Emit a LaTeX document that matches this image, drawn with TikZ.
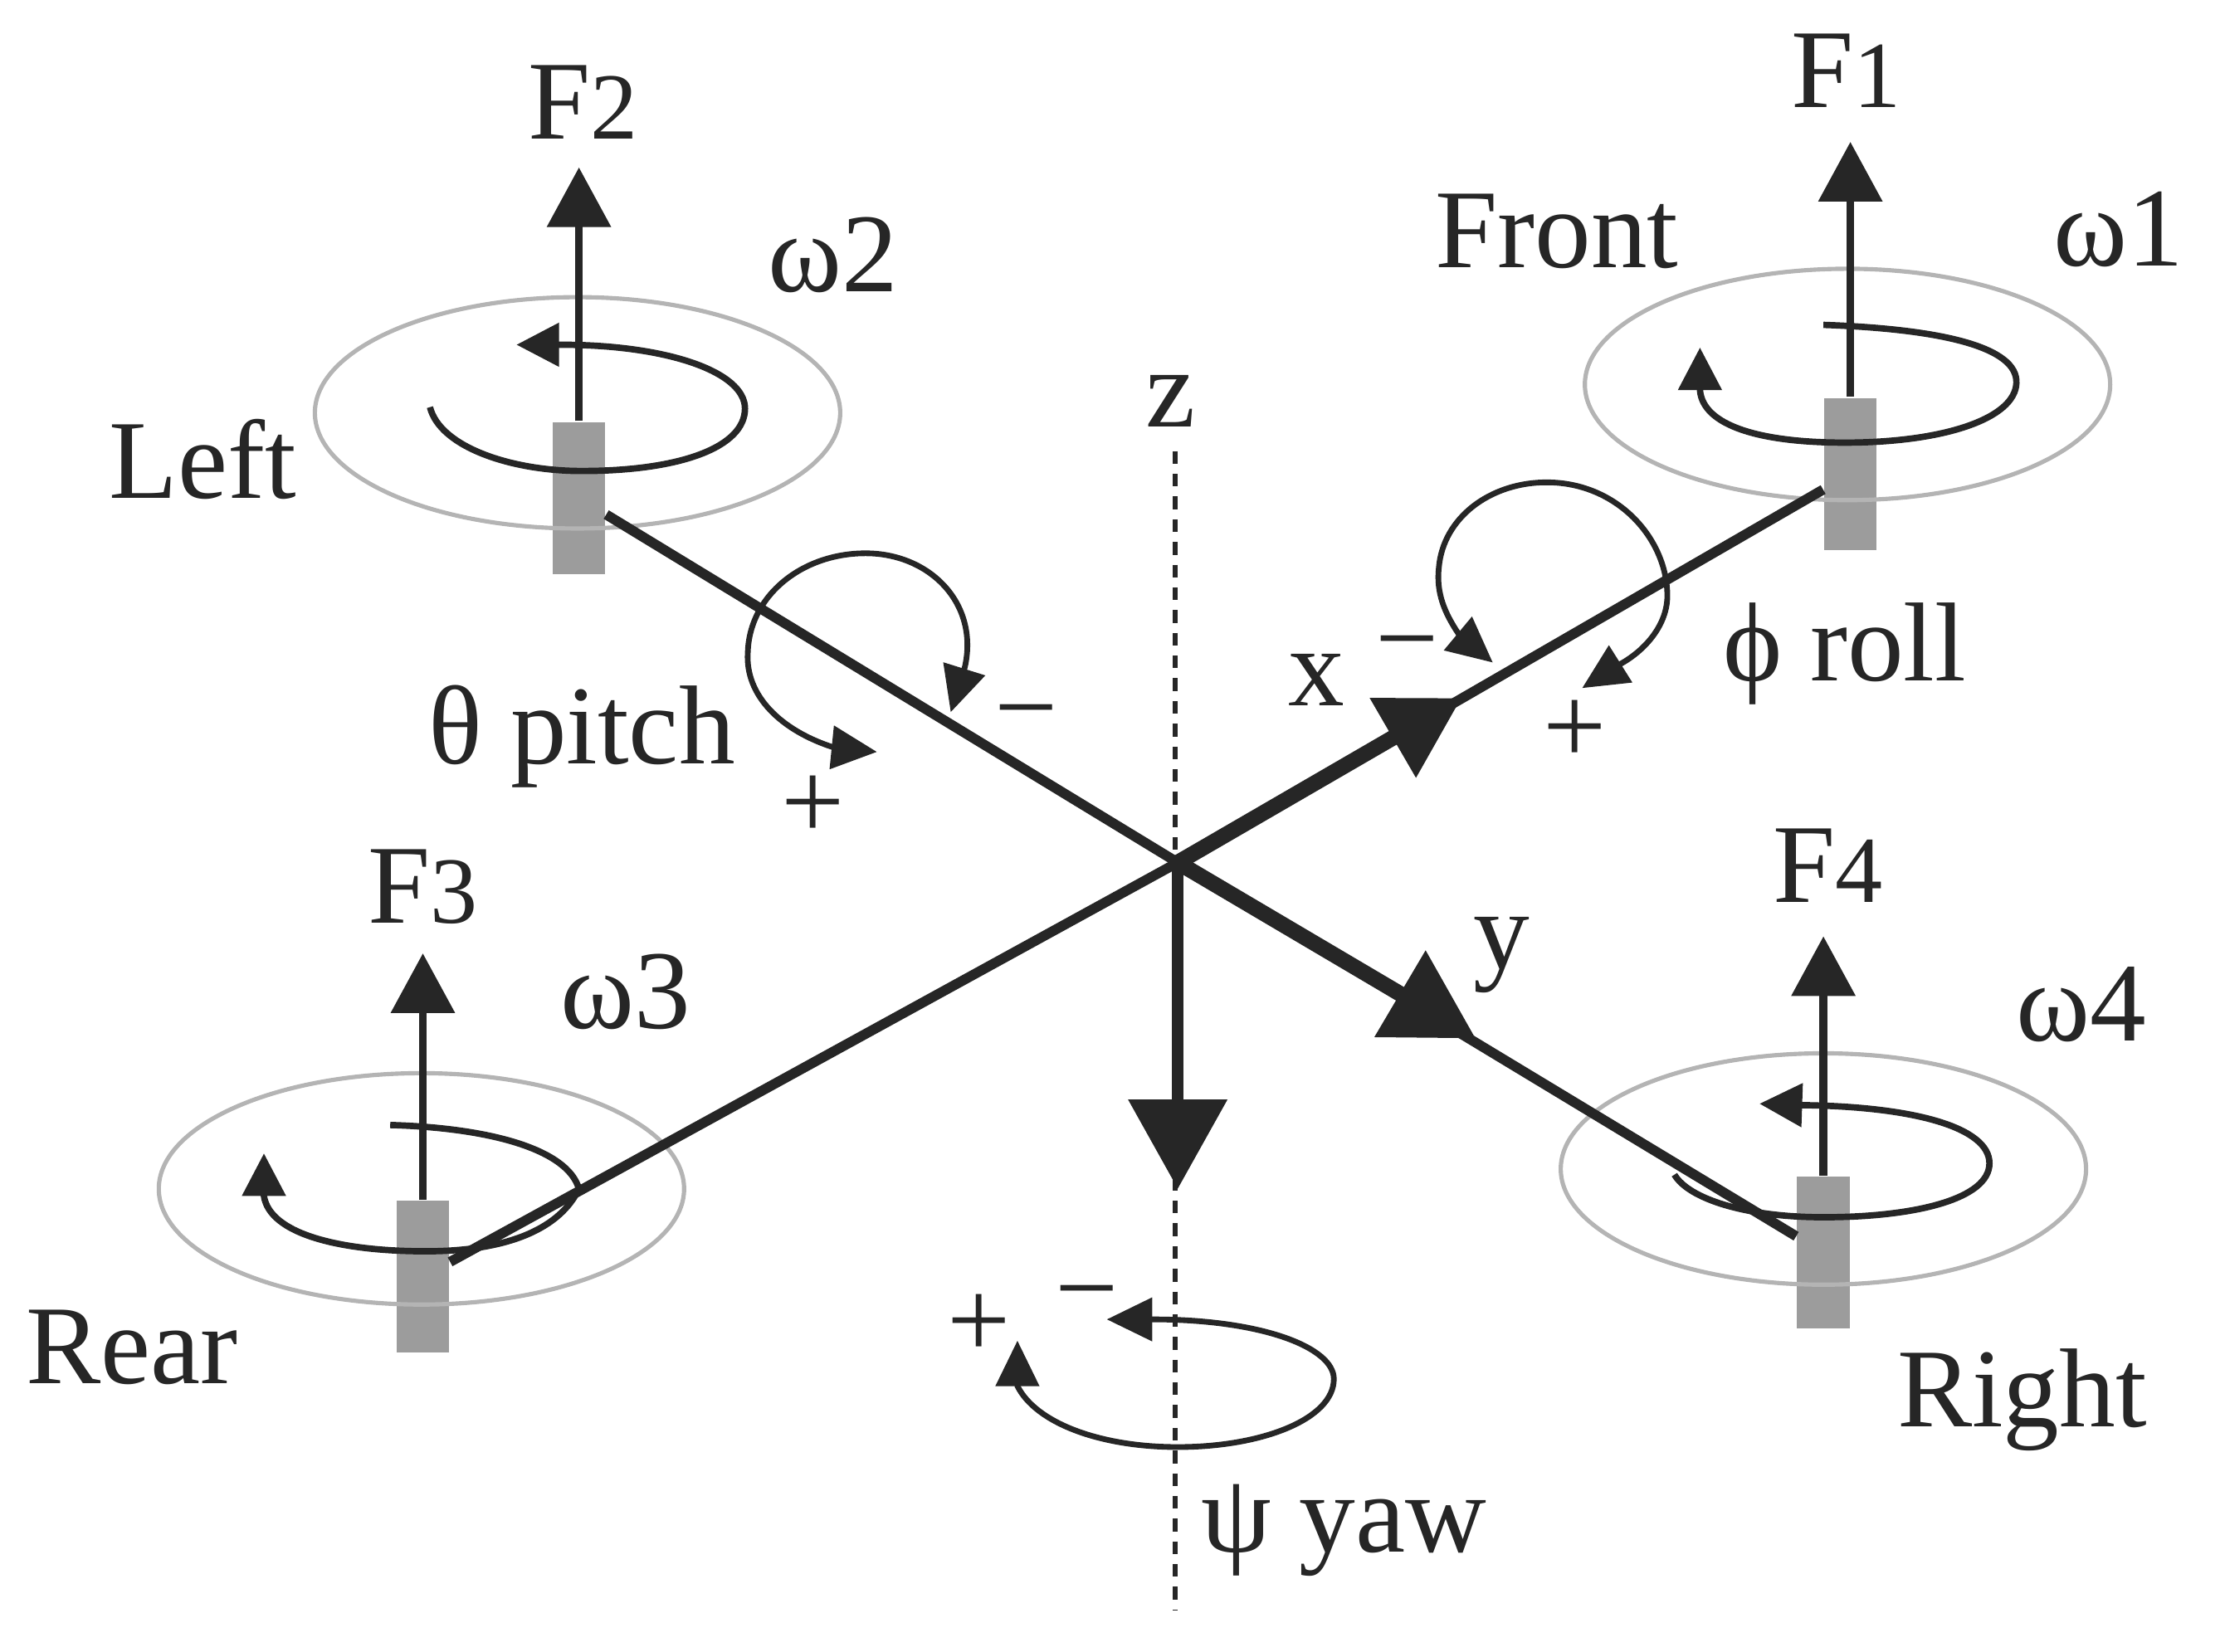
\documentclass[tikz,border=0pt]{standalone}
\usepackage{fontspec}
\setmainfont{Liberation Serif}
\usetikzlibrary{arrows.meta,shapes.geometric}
\definecolor{inkdark}{HTML}{262626}
\definecolor{motorgray}{HTML}{9C9C9C}
\definecolor{rotorgray}{HTML}{B4B4B4}
\newcommand{\digitsize}{\fontsize{19}{22}\selectfont}

\begin{document}
\begin{tikzpicture}
[x=0.01cm,y=-0.01cm,
  motordecorate/.style={shape=rectangle,inner sep=0pt,fill=motorgray,minimum width=0.37cm,minimum height=1.07cm},%
  rotordecorate/.style={shape=ellipse,inner sep=0pt,draw=rotorgray,line width=0.03cm,minimum width=3.7cm,minimum height=1.63cm},
  labeldecorate/.style={text=inkdark,inner sep=0pt,font=\fontsize{22.5}{26}\selectfont},
  armdecorate/.style={-,draw=inkdark,line width=0.07cm},
  forcedecorate/.style={-{Triangle[length=0.42cm,width=0.44cm]},draw=inkdark,line width=0.055cm},
  spindecorate/.style={-{Triangle[length=0.3cm,width=0.3cm]},draw=inkdark,line width=0.045cm},
  turndecorate/.style={{Triangle[length=0.32cm,width=0.3cm]}-{Triangle[length=0.32cm,width=0.3cm]},draw=inkdark,line width=0.04cm},
  axisdecorate/.style={draw=inkdark,line width=0.11cm}]
\useasboundingbox (0,0) rectangle (1568,1164);
%% motors, rotors and force arrows
\foreach \nodename/\x/\y/\rx/\ry/\fy in {
  1/1304/334/1302/271/100, 2/408/351/407/291/118,
  3/298/900/297/838/672, 4/1285/883/1285/824/660}
{
  \node (motor\nodename) at (\x,\y) [motordecorate] {};
  \node (rotor\nodename) at (\rx,\ry) [rotordecorate] {};
  \coordinate (force\nodename) at (\x,\fy);
  \draw[forcedecorate] (motor\nodename.north) -- (force\nodename);
}
%% spin of each rotor
\draw[spindecorate] (1285,229) .. controls (1370,232) and (1422,245) .. (1421,270)
  .. controls (1420,295) and (1370,312) .. (1300,312)
  .. controls (1240,312) and (1200,300) .. (1198,275) -- (1198,245);
\draw[spindecorate] (303,287) .. controls (310,315) and (360,332) .. (410,332)
  .. controls (480,332) and (525,315) .. (525,288)
  .. controls (525,262) and (470,243) .. (395,243) -- (364,243);
\draw[spindecorate] (275,793) .. controls (345,795) and (400,810) .. (408,838)
  .. controls (395,865) and (360,882) .. (300,882)
  .. controls (240,882) and (190,870) .. (186,843) -- (186,813);
\draw[spindecorate] (1180,828) .. controls (1190,845) and (1230,858) .. (1285,858)
  .. controls (1350,858) and (1402,845) .. (1402,820)
  .. controls (1402,795) and (1350,780) .. (1270,779) -- (1240,778);
%% arms and axes
\coordinate (origin) at (830,608);
\coordinate (xtip) at (1030,492);
\coordinate (ytip) at (1040,732);
\coordinate (ztip) at (830,838);
\coordinate (ztop) at (828,318);
\coordinate (zbottom) at (828,1135);
\path
\foreach \endnode in {motor1, motor2, motor3, motor4}
{
  (origin) edge[armdecorate] (\endnode)
};
\draw[draw=inkdark,line width=0.035cm,dash pattern=on 0.09cm off 0.07cm] (ztop) -- (zbottom);
\draw[axisdecorate,-{Triangle[length=0.56cm,width=0.62cm]}] (origin) -- (xtip);
\draw[axisdecorate,-{Triangle[length=0.62cm,width=0.68cm]}] (origin) -- (ytip);
\draw[axisdecorate,line width=0.08cm,-{Triangle[length=0.63cm,width=0.68cm]}] (origin) -- (ztip);
%% pitch, roll and yaw turns
\draw[turndecorate] (618,530) -- (588,527) .. controls (550,515) and (525,490) .. (527,460)
  .. controls (528,420) and (565,390) .. (610,390)
  .. controls (655,390) and (690,425) .. (680,470) -- (670,502);
\draw[turndecorate] (1052,467) -- (1028,447) .. controls (1018,432) and (1012,418) .. (1014,400)
  .. controls (1017,365) and (1050,340) .. (1090,340)
  .. controls (1140,340) and (1175,380) .. (1175,420)
  .. controls (1175,440) and (1160,458) .. (1142,468) -- (1115,485);
\draw[turndecorate] (717,945) -- (717,977) .. controls (730,1003) and (775,1020) .. (830,1020)
  .. controls (890,1020) and (940,1000) .. (940,972)
  .. controls (940,950) and (890,930) .. (812,930) -- (780,930);
%% labels
\foreach \nodename/\x/\y/\labeltext in {
  %% forces and rotor speeds
  fone/1301/50/{F{\digitsize 1}}, ftwo/411/72/{F{\digitsize 2}},
  fthree/298/625/{F{\digitsize 3}}, ffour/1288/610/{F{\digitsize 4}},
  wone/1493/162/{ω1}, wtwo/587/180/{ω2}, wthree/441/699/{ω3}, wfour/1467/708/{ω4},
  %% sides of the frame
  front/1097/163/Front, left/143/324/Left, rear/93/950/Rear, right/1425/987/Right,
  %% axes and turns
  zlabel/825/283/z, xlabel/928/479/x, ylabel/1058/673/y,
  pitch/410/519/{θ pitch}, roll/1300/461/{ϕ roll}, yaw/947/1079/{ψ yaw},
  %% signs
  pitchminus/723/511/−, pitchplus/573/569/+, rollminus/992/462/−, rollplus/1110/516/+,
  yawplus/690/935/+, yawminus/766/920/−}
{
  \node (\nodename) at (\x,\y) [labeldecorate] {\labeltext};
}
\end{tikzpicture}
\end{document}
